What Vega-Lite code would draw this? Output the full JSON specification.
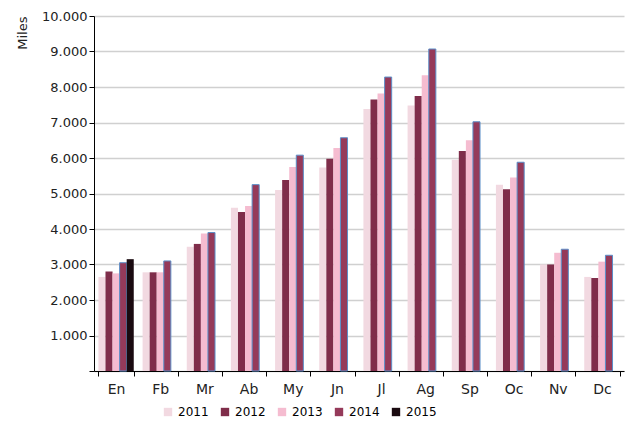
{
  "$schema": "https://vega.github.io/schema/vega-lite/v6.json",
  "width": 530,
  "height": 355,
  "padding": {"left": 16, "top": 10, "right": 2, "bottom": 5},
  "data": {"values": [
    {"m":"En","y":"2011","v":2650},{"m":"En","y":"2012","v":2800},{"m":"En","y":"2013","v":2750},{"m":"En","y":"2014","v":3050},{"m":"En","y":"2015","v":3150},
    {"m":"Fb","y":"2011","v":2780},{"m":"Fb","y":"2012","v":2780},{"m":"Fb","y":"2013","v":2780},{"m":"Fb","y":"2014","v":3100},
    {"m":"Mr","y":"2011","v":3500},{"m":"Mr","y":"2012","v":3580},{"m":"Mr","y":"2013","v":3870},{"m":"Mr","y":"2014","v":3900},
    {"m":"Ab","y":"2011","v":4600},{"m":"Ab","y":"2012","v":4480},{"m":"Ab","y":"2013","v":4650},{"m":"Ab","y":"2014","v":5250},
    {"m":"My","y":"2011","v":5100},{"m":"My","y":"2012","v":5380},{"m":"My","y":"2013","v":5750},{"m":"My","y":"2014","v":6080},
    {"m":"Jn","y":"2011","v":5730},{"m":"Jn","y":"2012","v":5980},{"m":"Jn","y":"2013","v":6280},{"m":"Jn","y":"2014","v":6570},
    {"m":"Jl","y":"2011","v":7380},{"m":"Jl","y":"2012","v":7650},{"m":"Jl","y":"2013","v":7820},{"m":"Jl","y":"2014","v":8280},
    {"m":"Ag","y":"2011","v":7480},{"m":"Ag","y":"2012","v":7750},{"m":"Ag","y":"2013","v":8330},{"m":"Ag","y":"2014","v":9070},
    {"m":"Sp","y":"2011","v":5950},{"m":"Sp","y":"2012","v":6200},{"m":"Sp","y":"2013","v":6500},{"m":"Sp","y":"2014","v":7020},
    {"m":"Oc","y":"2011","v":5250},{"m":"Oc","y":"2012","v":5120},{"m":"Oc","y":"2013","v":5450},{"m":"Oc","y":"2014","v":5880},
    {"m":"Nv","y":"2011","v":3000},{"m":"Nv","y":"2012","v":3000},{"m":"Nv","y":"2013","v":3330},{"m":"Nv","y":"2014","v":3430},
    {"m":"Dc","y":"2011","v":2650},{"m":"Dc","y":"2012","v":2620},{"m":"Dc","y":"2013","v":3080},{"m":"Dc","y":"2014","v":3260}
  ]},
  "mark": {"type": "bar"},
  "encoding": {
    "x": {"field": "m", "type": "nominal", "sort": null, "title": null,
      "scale": {"paddingInner": 0.2, "paddingOuter": 0.1},
      "axis": {"labelAngle": 0, "labelFontSize": 14, "labelColor": "#222", "domainColor": "#000", "tickColor": "#000", "tickBand": "extent", "labelPadding": 6}},
    "xOffset": {"field": "y", "type": "nominal", "scale": {"domain": ["2011","2012","2013","2014","2015"]}},
    "y": {"field": "v", "type": "quantitative", "title": "Miles",
      "scale": {"domain": [0, 10000]},
      "axis": {"tickCount": 10, "labelExpr": "datum.value == 0 ? '' : replace(format(datum.value, ',d'), ',', '.')", "labelFontSize": 13, "labelColor": "#222", "titleFontSize": 13, "titleFontWeight": "normal", "titleColor": "#222", "titleAnchor": "end", "titlePadding": 12, "grid": true, "gridColor": "#d0d0d0", "gridWidth": 1.5, "domainColor": "#000", "tickColor": "#000"}},
    "color": {"field": "y", "type": "nominal", "title": null,
      "scale": {"domain": ["2011","2012","2013","2014","2015"], "range": ["#f2d9e1","#7f2d4a","#f5bcd0","#953a5a","#1a0a10"]},
      "legend": {"orient": "none", "legendX": 68, "legendY": 390, "direction": "horizontal", "symbolType": "square", "labelFontSize": 12, "symbolSize": 70, "columnPadding": 10}},
    "stroke": {"condition": {"test": "datum.y == '2014'", "value": "#5b8fc9"}, "value": null},
    "strokeWidth": {"value": 1}
  },
  "config": {
    "font": "DejaVu Sans",
    "view": {"stroke": null}
  }
}
